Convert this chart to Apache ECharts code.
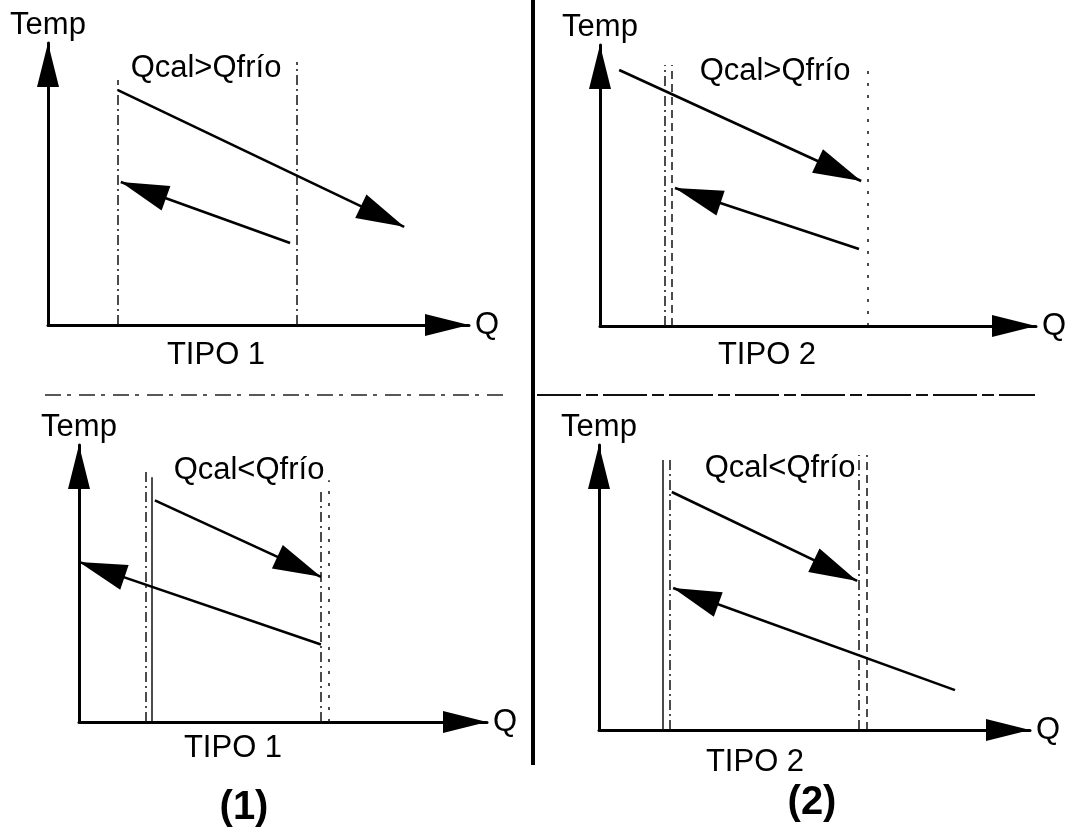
<!DOCTYPE html>
<html>
<head>
<meta charset="utf-8">
<title>Temp - Q</title>
<script src="https://cdn.jsdelivr.net/npm/echarts@6/dist/echarts.min.js"></script>
<style>
  html, body { margin: 0; padding: 0; background: #fff; }
  #chart { width: 1070px; height: 839px; }
</style>
</head>
<body>
<div id="chart"></div>
<script>
// Each panel: Q on the horizontal axis (0-100), Temp on the vertical axis (0-100).

// Axis names and panel captions
const axisNameY = 'Temp';
const axisNameX = 'Q';
const balanceLabels = ['Qcal>Qfrío', 'Qcal>Qfrío', 'Qcal<Qfrío', 'Qcal<Qfrío'];
const typeLabels = ['TIPO 1', 'TIPO 2', 'TIPO 1', 'TIPO 2'];
const caseLabels = ['(1)', '(2)'];

// Panel 1 (TIPO 1, Qcal>Qfrío)
const p1GuideQ = [16.6, 59.1];
const p1GuideTop = [86.9, 93.3];
const p1Hot = [[16.6, 83.3], [84.6, 34.8]];
const p1Cold = [[57.5, 29.1], [17.3, 50.7]];

// Panel 2 (TIPO 2, Qcal>Qfrío)
const p2GuideQ = [14.9, 16.5, 61.5];
const p2GuideTop = [92.9, 92.9, 92.2];
const p2Hot = [[4.4, 91.1], [59.9, 51.6]];
const p2Cold = [[59.4, 27.4], [17.2, 49.1]];

// Panel 3 (TIPO 1, Qcal<Qfrío)
const p3GuideQ = [16.4, 17.9, 59.3, 61.3];
const p3GuideTop = [90.5, 88.4, 84.4, 87.3];
const p3Hot = [[18.6, 80.0], [59.3, 52.4]];
const p3Cold = [[59.3, 28.0], [0, 57.8]];

// Panel 4 (TIPO 2, Qcal<Qfrío)
const p4GuideQ = [14.8, 16.5, 60.3, 62.2];
const p4GuideTop = [94.7, 94.7, 96.5, 96.5];
const p4Hot = [[16.9, 83.5], [59.9, 52.3]];
const p4Cold = [[82.6, 14.0], [17.2, 49.8]];

// ---- layout and styling ----
const FONT = "'Liberation Sans', Arial, Helvetica, sans-serif";
const grids = [
  { left: 48, top: 43, width: 421, height: 282 },
  { left: 600, top: 45, width: 436, height: 281 },
  { left: 79, top: 445, width: 408, height: 277 },
  { left: 599, top: 445, width: 431, height: 285 }
];
const DASH_DOT = [10, 4, 2, 4];
const DASH = [8, 5];
const SPARSE = [3, 9];
const guideStyles = [
  [DASH_DOT, DASH_DOT],
  [DASH_DOT, DASH, SPARSE],
  [DASH_DOT, 'solid', DASH_DOT, SPARSE],
  ['solid', DASH_DOT, DASH_DOT, DASH]
];
const guides = [
  [p1GuideQ, p1GuideTop], [p2GuideQ, p2GuideTop],
  [p3GuideQ, p3GuideTop], [p4GuideQ, p4GuideTop]
];
const flows = [[p1Hot, p1Cold], [p2Hot, p2Cold], [p3Hot, p3Cold], [p4Hot, p4Cold]];

// filled triangle whose tip sits at the symbol centre
const ARROW = 'path://M0,0L13,48L-13,48ZM0,-48L0,-48';

const xAxes = [], yAxes = [], series = [];
grids.forEach((g, i) => {
  const axisCommon = {
    type: 'value', gridIndex: i, min: 0, max: 100,
    axisTick: { show: false }, axisLabel: { show: false }, splitLine: { show: false },
    axisLine: {
      show: true,
      lineStyle: { color: '#000', width: 3 },
      symbol: ['none', 'triangle'],
      symbolSize: [22, 44],
      symbolOffset: [0, -22]
    },
    nameLocation: 'end',
    nameTextStyle: { color: '#000', fontSize: 31, fontFamily: FONT }
  };
  xAxes.push(Object.assign({}, axisCommon, { name: axisNameX, nameGap: 6 }));
  yAxes.push(Object.assign({}, axisCommon, { name: axisNameY, nameGap: 2 }));

  const [gq, gt] = guides[i];
  series.push({
    type: 'line', xAxisIndex: i, yAxisIndex: i, data: [], silent: true, clip: false,
    markLine: {
      silent: true, animation: false, symbol: 'none', label: { show: false },
      data: gq.map((q, k) => {
        const st = guideStyles[i][k];
        return [
          { coord: [q, 0], lineStyle: { color: '#111', width: 1.5, type: st } },
          { coord: [q, gt[k]] }
        ];
      })
    }
  });
  series.push({
    type: 'line', xAxisIndex: i, yAxisIndex: i, data: [], silent: true, clip: false,
    markLine: {
      silent: true, animation: false,
      symbol: ['none', ARROW], symbolSize: [26, 96],
      label: { show: false },
      lineStyle: { color: '#000', width: 2.6, type: 'solid' },
      data: flows[i].map(f => [{ coord: f[0] }, { coord: f[1] }])
    }
  });
});

const textPos = {
  balance: [[206, 68], [775, 71], [249, 470], [780, 468]],
  type: [[216, 355], [767, 355], [233, 748], [755, 762]],
  cases: [[244, 808], [812, 803]]
};
const graphic = [
  { type: 'line', shape: { x1: 533, y1: 0, x2: 533, y2: 765 }, style: { stroke: '#000', lineWidth: 4 } },
  { type: 'line', shape: { x1: 45, y1: 395, x2: 505, y2: 395 }, style: { stroke: '#222', lineWidth: 1.6, lineDash: [16, 6, 4, 8] } },
  { type: 'line', shape: { x1: 537, y1: 395, x2: 1035, y2: 395 }, style: { stroke: '#111', lineWidth: 1.8, lineDash: [44, 5, 12, 5] } }
];
function addText(str, p, size, weight) {
  graphic.push({
    type: 'text', x: p[0], y: p[1], silent: true,
    style: {
      text: str, fill: '#000', fontSize: size, fontFamily: FONT, fontWeight: weight || 'normal',
      align: 'center', verticalAlign: 'middle'
    }
  });
}
balanceLabels.forEach((t, i) => addText(t, textPos.balance[i], 31));
typeLabels.forEach((t, i) => addText(t, textPos.type[i], 31));
caseLabels.forEach((t, i) => addText(t, textPos.cases[i], 40, 'bold'));

const chart = echarts.init(document.getElementById('chart'), null, { renderer: 'canvas' });
chart.setOption({
  backgroundColor: '#fff',
  animation: false,
  grid: grids.map(g => Object.assign({ containLabel: false }, g)),
  xAxis: xAxes,
  yAxis: yAxes,
  series: series,
  graphic: graphic
});
</script>
</body>
</html>
